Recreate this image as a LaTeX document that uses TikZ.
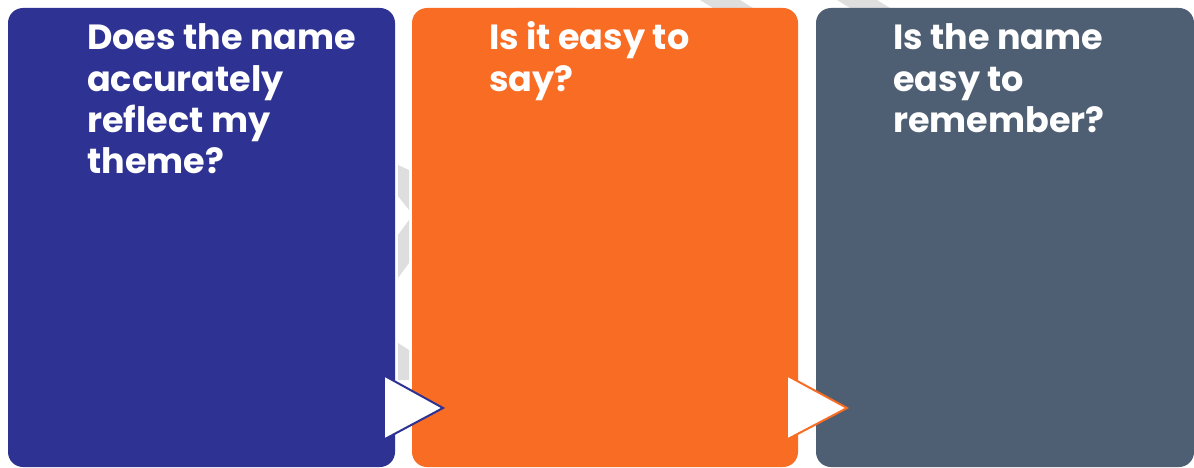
\documentclass[tikz,border=0pt]{standalone}
\usepackage{fontspec}
\setmainfont{Poppins}
\definecolor{cblue}{HTML}{2E3393}
\definecolor{corange}{HTML}{F86C23}
\definecolor{cslate}{HTML}{4E5E73}
\definecolor{cwm}{HTML}{DEDEDE}
\tikzset{
  card/.style={rounded corners=15pt},
  qtext/.style={anchor=base west, inner sep=0pt, text=white, font=\fontsize{35}{41}\selectfont\bfseries},
  wm/.style={fill=cwm, draw=none},
  tri/.style={fill=white, draw=none},
}
\begin{document}
\begin{tikzpicture}[x=1pt,y=-1pt]
\useasboundingbox (0,0) rectangle (1194,468);
\fill[white] (0,0) rectangle (1194,468);
% faint background watermark pieces
\fill[wm] (398,165) -- (409,170) -- (409,210) -- (398,196) -- cycle;
\fill[wm] (409,220) -- (409,263) -- (398,278) -- (398,235) -- cycle;
\fill[wm] (398,343) -- (409,350) -- (409,380) -- (398,380) -- cycle;
\fill[wm] (517,8) arc[start angle=160,end angle=20,x radius=32,y radius=10] -- cycle;
\fill[wm] (700,0) -- (740,0) -- (753,8) -- (713,8) -- cycle;
\fill[wm] (837,0) -- (877,0) -- (890,8) -- (850,8) -- cycle;
% cards
\fill[card,cblue] (8,8) rectangle (395,467);
\fill[card,corange] (412,8) rectangle (798,467);
\fill[card,cslate] (816,8) rectangle (1194,467);
% texts
\node[qtext] (q1a) at (87,50) {Does the name};
\node[qtext] (q1b) at (87,92) {accurately};
\node[qtext] (q1c) at (87,133) {reflect my};
\node[qtext] (q1d) at (87,174) {theme?};
\node[qtext] (q2a) at (489,50) {Is it easy to};
\node[qtext] (q2b) at (489,92) {say?};
\node[qtext] (q3a) at (893,50) {Is the name};
\node[qtext] (q3b) at (893,92) {easy to};
\node[qtext] (q3c) at (893,133) {remember?};
% arrows
\coordinate (a1t) at (385,376);
\coordinate (a1p) at (443,408);
\coordinate (a1b) at (385,439);
\fill[tri] (a1t) -- (a1p) -- (a1b) -- cycle;
\draw[cblue, line width=2pt] (a1t) -- (a1p) -- (a1b);
\coordinate (a2t) at (788,376);
\coordinate (a2p) at (847,408);
\coordinate (a2b) at (788,439);
\fill[tri] (a2t) -- (a2p) -- (a2b) -- cycle;
\draw[corange, line width=2pt] (a2t) -- (a2p) -- (a2b);
\end{tikzpicture}
\end{document}
